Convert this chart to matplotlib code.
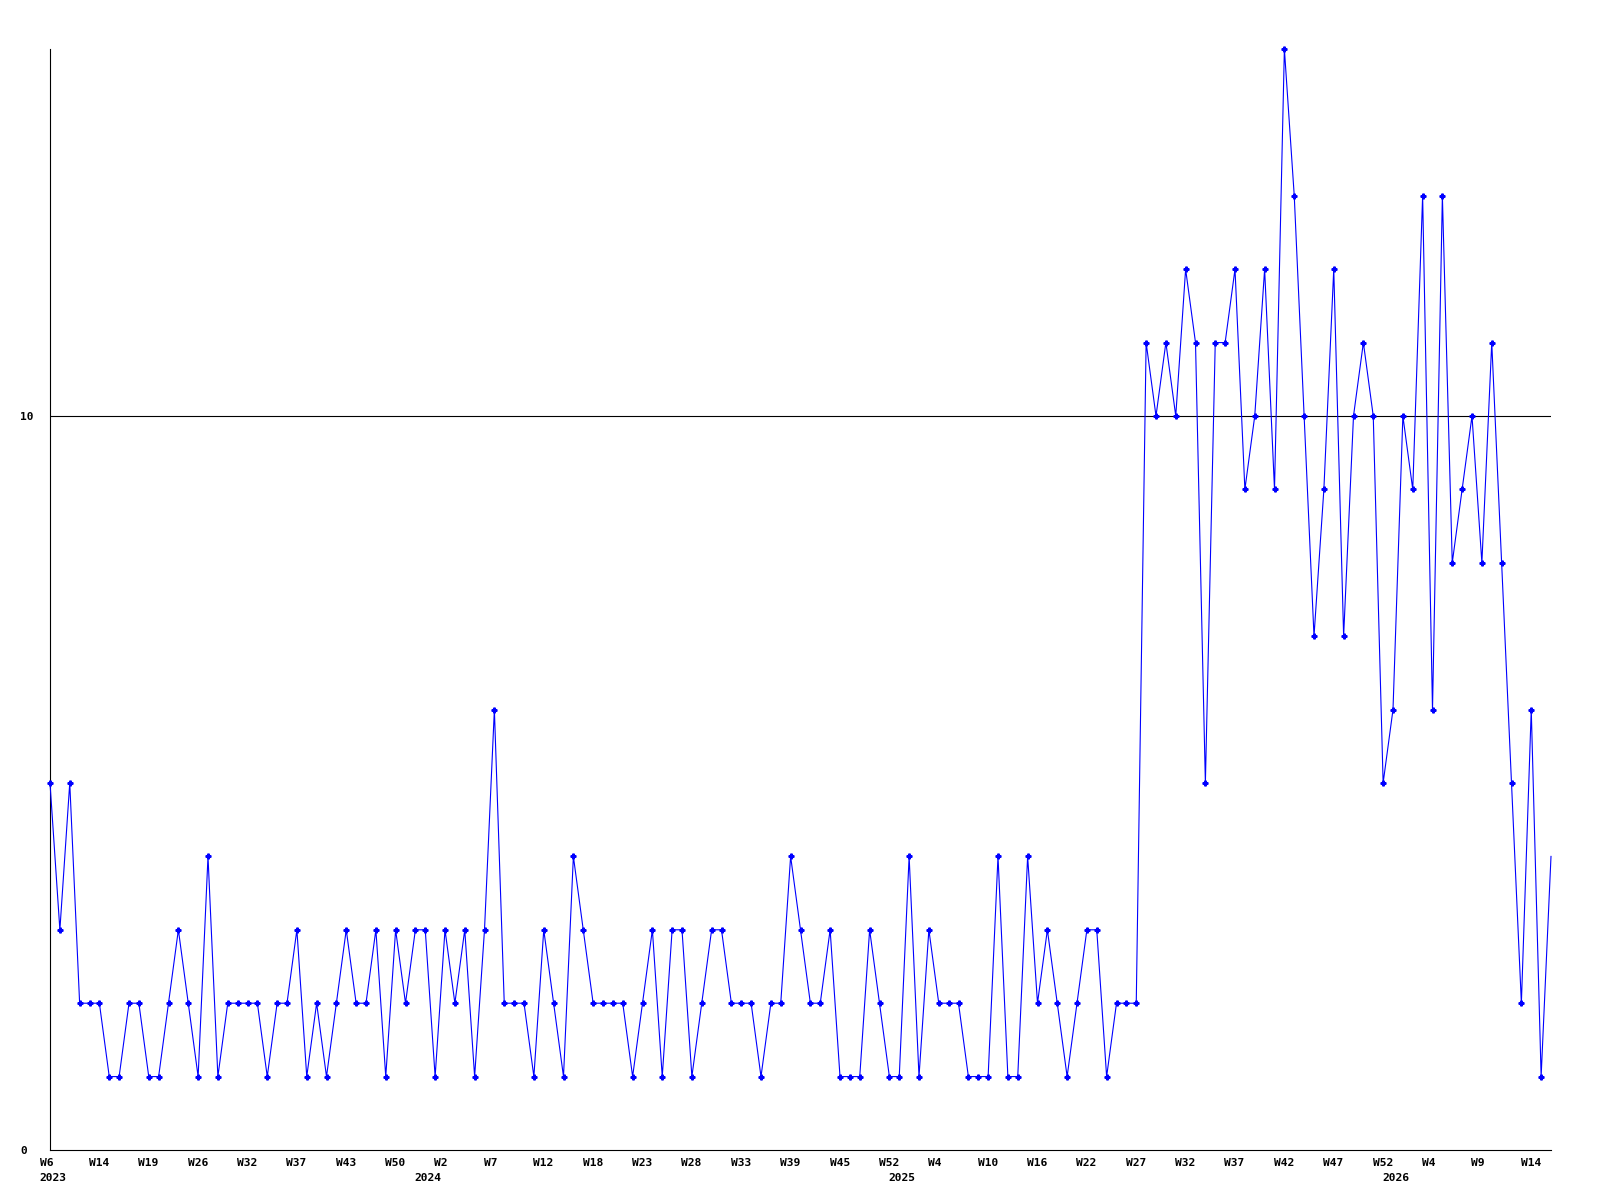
import matplotlib
matplotlib.use('Agg')
import matplotlib.pyplot as plt
import matplotlib.transforms as mtransforms

# one value per week
values = [5, 3, 5, 2, 2, 2, 1, 1, 2, 2, 1, 1, 2, 3, 2, 1, 4, 1, 2, 2,
          2, 2, 1, 2, 2, 3, 1, 2, 1, 2, 3, 2, 2, 3, 1, 3, 2, 3, 3, 1,
          3, 2, 3, 1, 3, 6, 2, 2, 2, 1, 3, 2, 1, 4, 3, 2, 2, 2, 2, 1,
          2, 3, 1, 3, 3, 1, 2, 3, 3, 2, 2, 2, 1, 2, 2, 4, 3, 2, 2,
          3, 1, 1, 1, 3, 2, 1, 1, 4, 1, 3, 2, 2, 2, 1, 1, 1, 4, 1, 1,
          4, 2, 3, 2, 1, 2, 3, 3, 1, 2, 2, 2,
          11, 10, 11, 10, 12, 11, 5, 11, 11, 12, 9, 10, 12, 9, 15, 13, 10, 7, 9, 12,
          7, 10, 11, 10, 5, 6, 10, 9, 13, 6, 13, 8, 9, 10, 8, 11, 8, 5, 2, 6, 1, 4]

# week label on every 5th point
tick_weeks = ['W6', 'W14', 'W19', 'W26', 'W32', 'W37', 'W43', 'W50',
              'W2', 'W7', 'W12', 'W18', 'W23', 'W28', 'W33', 'W39', 'W45', 'W52',
              'W4', 'W10', 'W16', 'W22', 'W27', 'W32', 'W37', 'W42', 'W47', 'W52',
              'W4', 'W9', 'W14']
tick_step = 5

# first point of each year
year_labels = ['2023', '2024', '2025', '2026']
year_starts = [0, 38, 86, 136]

ref_level = 10

font = dict(family='DejaVu Sans Mono', weight='bold', size=8.1)

fig = plt.figure(figsize=(16, 12), dpi=100)
ax = fig.add_axes([50 / 1600., 50 / 1200., 1501 / 1600., 1101 / 1200.])

x = list(range(len(values)))
ax.axhline(ref_level, color='black', lw=0.8, zorder=1)
ax.plot(x, values, color='#0000ff', lw=0.8, marker='P', ms=3.5,
        markevery=slice(0, len(values) - 1), clip_on=False, zorder=3)

ax.set_xlim(0, len(values) - 1)
ax.set_ylim(0, max(values))

for side in ['top', 'right']:
    ax.spines[side].set_visible(False)
for side in ['left', 'bottom']:
    ax.spines[side].set_linewidth(0.8)
    ax.spines[side].set_color('black')

ax.set_yticks([0, ref_level])
ax.set_yticklabels(['0', str(ref_level)], fontdict=font)
ax.tick_params(axis='y', length=0, pad=21.5)
for lab in ax.get_yticklabels():
    lab.set_horizontalalignment('left')

ax.set_xticks(list(range(0, len(values), tick_step)))
ax.set_xticklabels(tick_weeks, fontdict=font)
ax.tick_params(axis='x', length=0, pad=5.5)
shift = mtransforms.ScaledTranslation(-10.5 / 100., 0, fig.dpi_scale_trans)
for lab in ax.get_xticklabels():
    lab.set_horizontalalignment('left')
    lab.set_transform(lab.get_transform() + shift)

for label, pos in zip(year_labels, year_starts):
    ax.annotate(label, xy=(pos, 0), xycoords=('data', 'axes fraction'),
                xytext=(-10.5 * 0.72, -16.6), textcoords='offset points',
                ha='left', va='top', **font)

fig.savefig('out.png', dpi=100)
